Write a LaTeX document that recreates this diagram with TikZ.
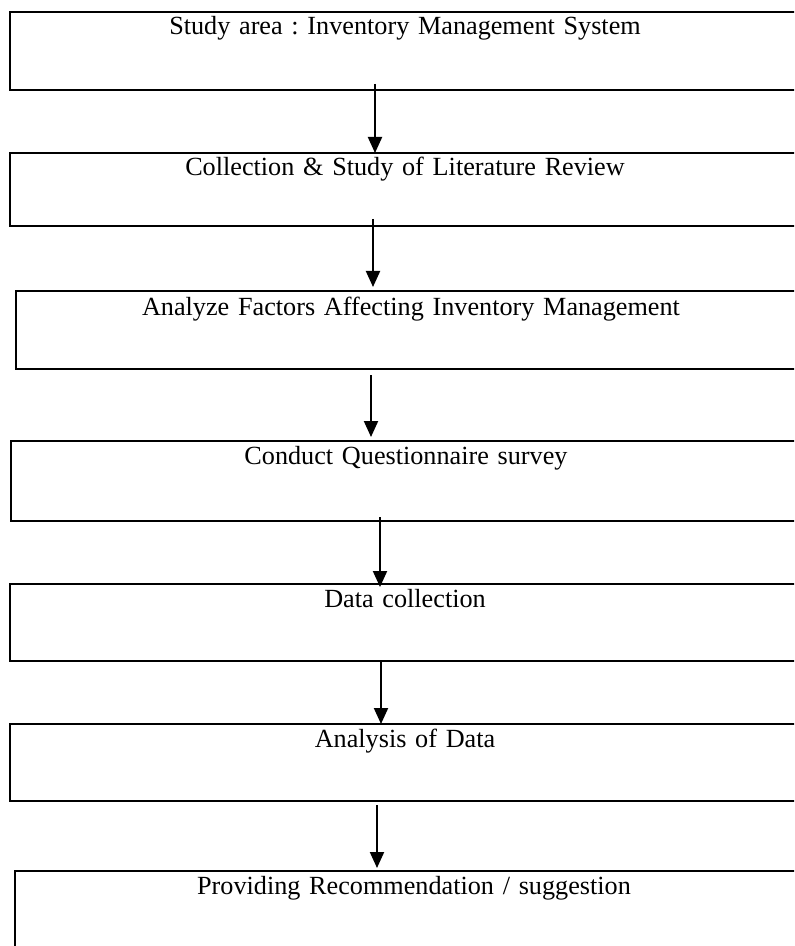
\documentclass[tikz,border=0pt]{standalone}
\usepackage{fontspec}
\setmainfont{Liberation Serif}
\usetikzlibrary{arrows.meta,positioning}
\frenchspacing

\begin{document}
\begin{tikzpicture}[node distance = 1cm, auto, line width = 1pt, >={Triangle[width=7pt,length=8pt]}]

\tikzstyle{stage} = [rectangle, draw, line width = 1pt, inner sep = 0pt, outer sep = 0pt, text width = 395pt, minimum width = 395pt, align = center, text height = 11.5pt, font = \fontsize{13.1pt}{15pt}\selectfont]

\clip (0,0) rectangle (397pt,-473pt);

% stages
\node [stage, anchor = north west, text depth = 27.5pt] (study) at (5pt,-6pt) {Study area : Inventory Management System};
\node [stage, below = 31.5pt of study, text depth = 25pt] (review) {Collection \& Study of Literature Review};
\node [stage, below = 32.5pt of review, xshift = 3pt, text height = 12pt, text depth = 27pt] (factors) {Analyze Factors Affecting Inventory Management};
\node [stage, below = 36pt of factors, xshift = -2.5pt, text depth = 28.5pt] (survey) {Conduct Questionnaire survey};
\node [stage, below = 31.5pt of survey, xshift = -0.5pt, text depth = 27pt] (collect) {Data collection};
\node [stage, below = 31.5pt of collect, text depth = 27pt] (analysis) {Analysis of Data};
\node [stage, below = 35pt of analysis, xshift = 4.5pt, text width = 399pt, minimum width = 399pt, text depth = 33.5pt] (recommend) {Providing Recommendation / suggestion};

% arrows
\path[->] ([xshift = -15pt, yshift = 3pt]study.south) edge ([xshift = -15pt]review.north);
\path[->] ([xshift = -16pt, yshift = 3.5pt]review.south) edge ([xshift = -19pt, yshift = 2pt]factors.north);
\path[->] ([xshift = -20pt, yshift = -3pt]factors.south) edge ([xshift = -17.5pt, yshift = 2pt]survey.north);
\path[->] ([xshift = -13pt, yshift = 2pt]survey.south) edge ([xshift = -12.5pt, yshift = -1.5pt]collect.north);
\path[->] ([xshift = -12pt]collect.south) edge ([xshift = -12pt]analysis.north);
\path[->] ([xshift = -14pt, yshift = -2pt]analysis.south) edge ([xshift = -18.5pt, yshift = 1.5pt]recommend.north);

\end{tikzpicture}
\end{document}
